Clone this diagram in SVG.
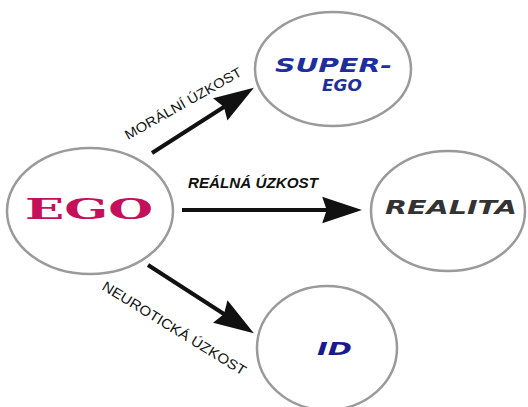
<svg xmlns="http://www.w3.org/2000/svg" width="528" height="407" viewBox="0 0 528 407">
<style>
.node ellipse{fill:#fff;stroke:#9a9a9a;stroke-width:2.5}
.conn path{fill:none;stroke:#111;stroke-width:4}
.lbl{font-family:"Liberation Sans",Arial,sans-serif;fill:#111}
.it{font-family:"DejaVu Sans","Liberation Sans",sans-serif;font-weight:bold;font-style:italic}
</style>
<defs>
<marker id="ah" markerUnits="userSpaceOnUse" markerWidth="40" markerHeight="30" viewBox="0 0 36 26" refX="16" refY="13" orient="auto">
<path d="M0,1 L36,13 L0,25 L4,13 z" fill="#111"/>
</marker>
</defs>
<rect width="528" height="407" fill="#fff"/>
<g id="ego" class="node">
<ellipse cx="90" cy="211" rx="83" ry="63"/>
<text x="25" y="219" font-family="'DejaVu Serif',serif" font-weight="900" font-size="27" fill="#c4105a" textLength="128" lengthAdjust="spacingAndGlyphs">EGO</text>
</g>
<g id="superego" class="node">
<ellipse cx="333" cy="69" rx="78" ry="57"/>
<text class="it" x="275" y="72" font-size="20" fill="#1f2f9a" textLength="117" lengthAdjust="spacingAndGlyphs">SUPER-</text>
<text class="it" x="322" y="91" font-size="16.5" fill="#1f2f9a" textLength="40" lengthAdjust="spacingAndGlyphs">EGO</text>
</g>
<g id="realita" class="node">
<ellipse cx="448" cy="211" rx="77" ry="60"/>
<text class="it" x="385" y="214" font-size="19" fill="#333" textLength="132" lengthAdjust="spacingAndGlyphs">REALITA</text>
</g>
<g id="id" class="node">
<ellipse cx="327" cy="348" rx="70" ry="62"/>
<text class="it" x="317" y="355" font-size="18" fill="#1a1a8f" textLength="35" lengthAdjust="spacingAndGlyphs">ID</text>
</g>
<g id="connectors" class="conn">
<path d="M152,153 L235.2,99.8" marker-end="url(#ah)"/>
<path d="M182,210 L340,210" marker-end="url(#ah)"/>
<path d="M148,265 L235.2,321.2" marker-end="url(#ah)"/>
<text class="lbl" transform="translate(128,140) rotate(-29.5)" font-size="13.5" textLength="132" lengthAdjust="spacingAndGlyphs">MORÁLNÍ ÚZKOST</text>
<text class="lbl" x="188" y="188" font-size="14.5" font-weight="bold" font-style="italic" textLength="130" lengthAdjust="spacingAndGlyphs">REÁLNÁ ÚZKOST</text>
<text class="lbl" transform="translate(101,289) rotate(31.6)" font-size="14" textLength="166" lengthAdjust="spacingAndGlyphs">NEUROTICKÁ ÚZKOST</text>
</g>
</svg>
